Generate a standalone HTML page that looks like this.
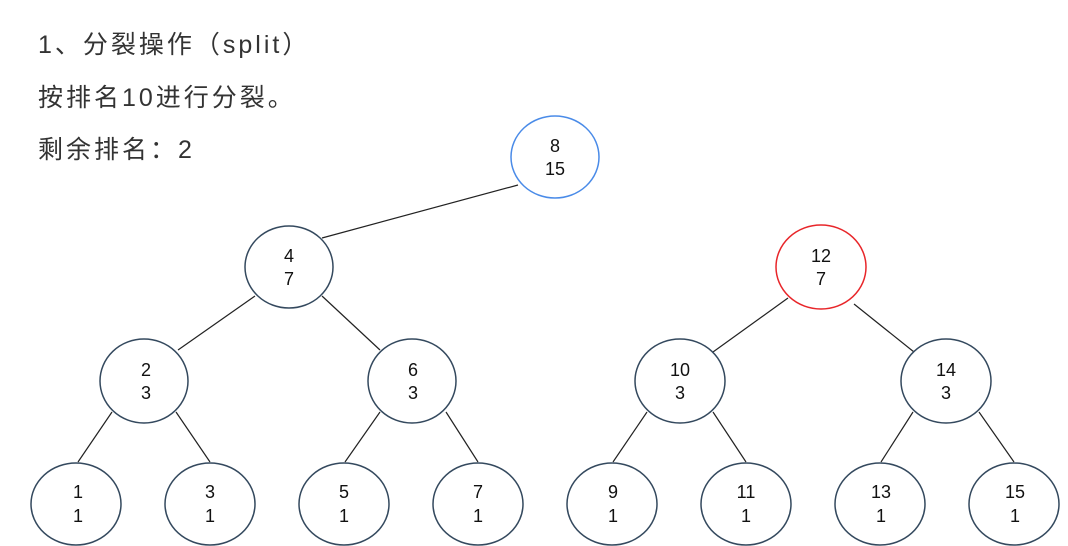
<!DOCTYPE html>
<html><head><meta charset="utf-8"><style>
body{margin:0;background:#fff;width:1068px;height:546px;overflow:hidden;position:relative;font-family:"Liberation Sans","Noto Sans CJK SC",sans-serif}
.t{position:absolute;left:38px;font-size:25px;color:#333;white-space:nowrap;letter-spacing:3px;line-height:30px}
</style></head><body>
<div class="t" style="top:30px">1、分裂操作（split）</div>
<div class="t" style="top:83px">按排名10进行分裂。</div>
<div class="t" style="top:135px">剩余排名：2</div>
<svg width="1068" height="546" style="position:absolute;left:0;top:0" font-family="Liberation Sans, sans-serif" font-size="18" text-anchor="middle">
<g stroke="#222" stroke-width="1.2">
<line x1="518" y1="185" x2="322" y2="238"/>
<line x1="255" y1="296" x2="178" y2="350"/>
<line x1="322" y1="296" x2="380" y2="350"/>
<line x1="112" y1="412" x2="78" y2="462"/>
<line x1="176" y1="412" x2="210" y2="462"/>
<line x1="380" y1="412" x2="345" y2="462"/>
<line x1="446" y1="412" x2="478" y2="462"/>
<line x1="788" y1="298" x2="713" y2="352"/>
<line x1="854" y1="304" x2="914" y2="352"/>
<line x1="647" y1="412" x2="613" y2="462"/>
<line x1="713" y1="412" x2="746" y2="462"/>
<line x1="913" y1="412" x2="881" y2="462"/>
<line x1="979" y1="412" x2="1014" y2="462"/>
</g>
<g fill="#fff" stroke="#34495e" stroke-width="1.5">
<ellipse cx="555" cy="157" rx="44" ry="41" stroke="#4a8be8"/>
<ellipse cx="289" cy="267" rx="44" ry="41"/>
<ellipse cx="821" cy="267" rx="45" ry="42" stroke="#e8262a"/>
<ellipse cx="144" cy="381" rx="44" ry="42"/>
<ellipse cx="412" cy="381" rx="44" ry="42"/>
<ellipse cx="680" cy="381" rx="45" ry="42"/>
<ellipse cx="946" cy="381" rx="45" ry="42"/>
<ellipse cx="76" cy="504" rx="45" ry="41"/>
<ellipse cx="210" cy="504" rx="45" ry="41"/>
<ellipse cx="344" cy="504" rx="45" ry="41"/>
<ellipse cx="478" cy="504" rx="45" ry="41"/>
<ellipse cx="612" cy="504" rx="45" ry="41"/>
<ellipse cx="746" cy="504" rx="45" ry="41"/>
<ellipse cx="880" cy="504" rx="45" ry="41"/>
<ellipse cx="1014" cy="504" rx="45" ry="41"/>
</g>
<g fill="#111">
<text x="555" y="152">8</text><text x="555" y="175">15</text>
<text x="289" y="262">4</text><text x="289" y="285">7</text>
<text x="821" y="262">12</text><text x="821" y="285">7</text>
<text x="146" y="376">2</text><text x="146" y="399">3</text>
<text x="413" y="376">6</text><text x="413" y="399">3</text>
<text x="680" y="376">10</text><text x="680" y="399">3</text>
<text x="946" y="376">14</text><text x="946" y="399">3</text>
<text x="78" y="498">1</text><text x="78" y="522">1</text>
<text x="210" y="498">3</text><text x="210" y="522">1</text>
<text x="344" y="498">5</text><text x="344" y="522">1</text>
<text x="478" y="498">7</text><text x="478" y="522">1</text>
<text x="613" y="498">9</text><text x="613" y="522">1</text>
<text x="746" y="498">11</text><text x="746" y="522">1</text>
<text x="881" y="498">13</text><text x="881" y="522">1</text>
<text x="1015" y="498">15</text><text x="1015" y="522">1</text>
</g>
</svg>
</body></html>
